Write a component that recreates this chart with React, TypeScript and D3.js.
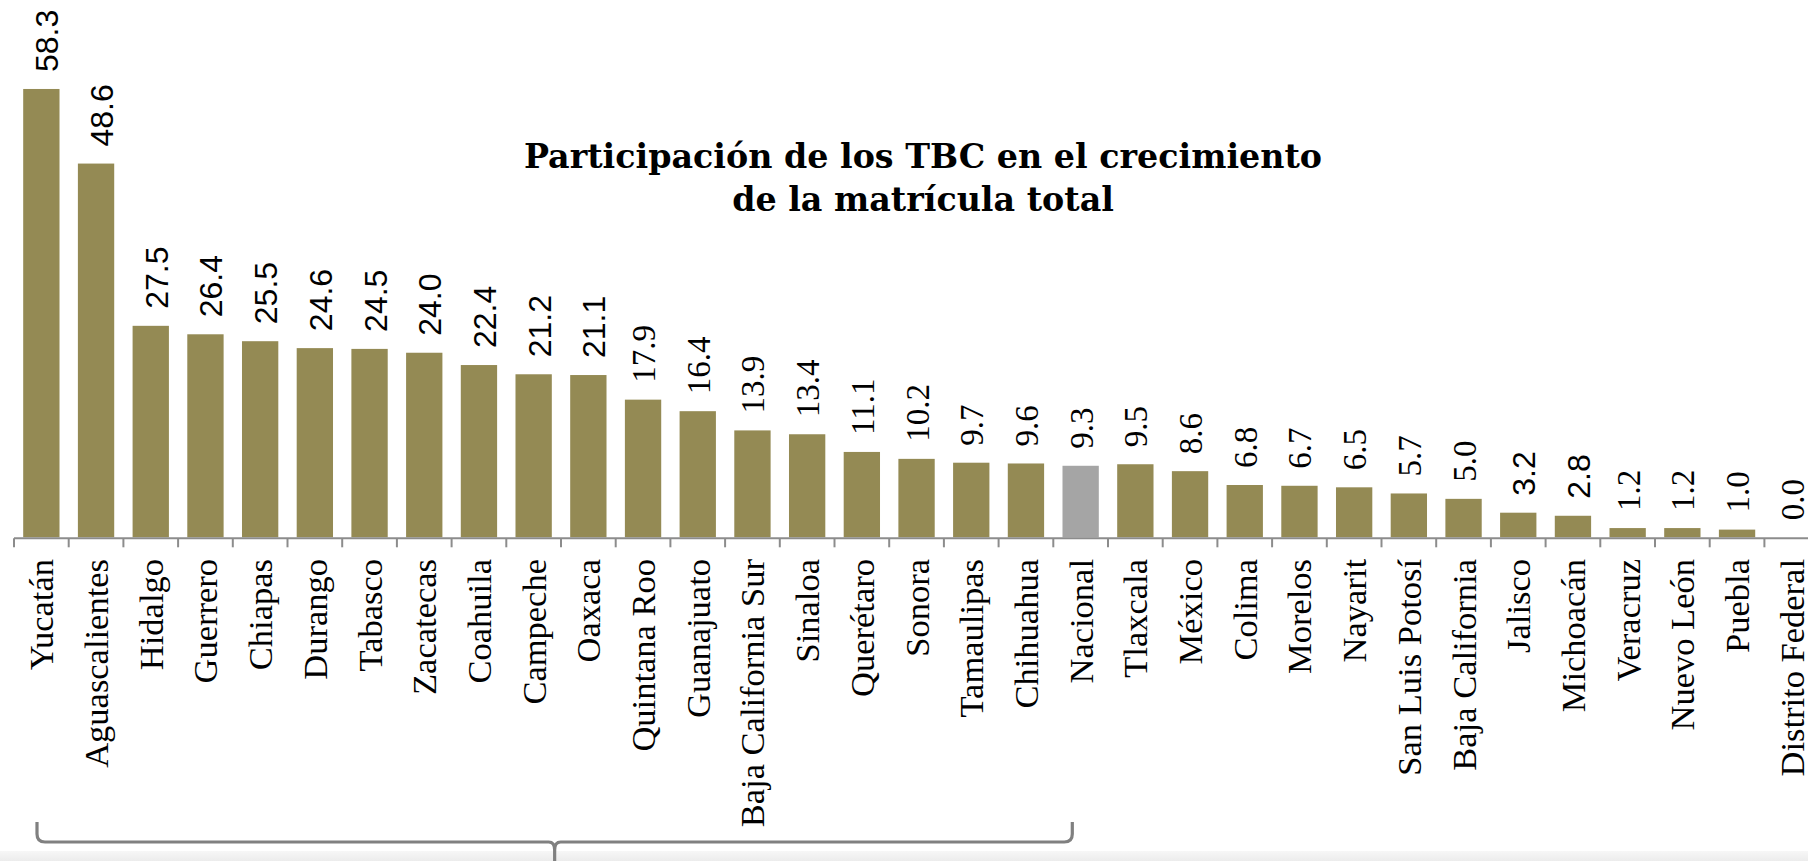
import React from "react";
import * as d3 from "d3";

const categories: string[] = [
  "Yucatán", "Aguascalientes", "Hidalgo", "Guerrero", "Chiapas", "Durango", "Tabasco",
  "Zacatecas", "Coahuila", "Campeche", "Oaxaca", "Quintana Roo", "Guanajuato",
  "Baja California Sur", "Sinaloa", "Querétaro", "Sonora", "Tamaulipas", "Chihuahua",
  "Nacional", "Tlaxcala", "México", "Colima", "Morelos", "Nayarit", "San Luis Potosí",
  "Baja California", "Jalisco", "Michoacán", "Veracruz", "Nuevo León", "Puebla", "Distrito Federal",
];

const values: number[] = [
  58.3, 48.6, 27.5, 26.4, 25.5, 24.6, 24.5, 24.0, 22.4, 21.2, 21.1, 17.9, 16.4,
  13.9, 13.4, 11.1, 10.2, 9.7, 9.6, 9.3, 9.5, 8.6, 6.8, 6.7, 6.5, 5.7, 5.0, 3.2, 2.8,
  1.2, 1.2, 1.0, 0.0,
];

const highlighted: string[] = ["Nacional"];
const bracketFrom = "Yucatán";
const bracketTo = "Chihuahua";
const titleLines: string[] = ["Participación de los TBC en el crecimiento", "de la matrícula total"];

// labels rendered in a sans face in the reference
const sansLabels = new Set<string>([
  "Yucatán", "Aguascalientes", "Hidalgo", "Guerrero", "Chiapas", "Durango", "Tabasco",
  "Zacatecas", "Coahuila", "Campeche", "Oaxaca", "Jalisco", "Michoacán",
]);

const W = 1808;
const H = 861;
const X0 = 14;
const STEP = 54.7;
const BASE = 537.3;
const PX_PER_UNIT = 7.69;

export default function App() {
  const data = categories.map((c, i) => ({ c, v: values[i] }));

  const xTick = d3.scaleBand<string>().domain(categories).range([X0, X0 + STEP * categories.length]).padding(0);
  const x = d3
    .scaleBand<string>()
    .domain(categories)
    .range([X0, X0 + STEP * categories.length])
    .paddingInner(0.336)
    .paddingOuter(0.168);
  const y = d3.scaleLinear().domain([0, 60]).range([BASE, BASE - 60 * PX_PER_UNIT]);

  const cx = (c: string) => (xTick(c) ?? 0) + xTick.bandwidth() / 2;

  const bLeft = (xTick(bracketFrom) ?? 0) + 23;
  const bRight = (xTick(bracketTo) ?? 0) + xTick.step() + 19;
  const bMid = (bLeft + bRight) / 2;
  const bTop = 822;
  const bY = 842;
  const r = 8;
  const bracketPath =
    `M${bLeft},${bTop} L${bLeft},${bY - r} Q${bLeft},${bY} ${bLeft + r},${bY} ` +
    `L${bMid - 6},${bY} Q${bMid},${bY} ${bMid},${bY + 8} L${bMid},${H + 2} ` +
    `M${bMid},${bY + 8} Q${bMid},${bY} ${bMid + 6},${bY} ` +
    `L${bRight - r},${bY} Q${bRight},${bY} ${bRight},${bY - r} L${bRight},${bTop}`;

  const tickXs = categories.map((c) => xTick(c) ?? 0);

  return (
    <svg
      width={W}
      height={H}
      viewBox={`0 0 ${W} ${H}`}
      style={{ position: "absolute", left: 0, top: 0, display: "block", background: "#ffffff" }}
    >
      <defs>
        <linearGradient id="bottomBand" x1="0" y1="0" x2="0" y2="1">
          <stop offset="0" stopColor="#f7f7f7" />
          <stop offset="1" stopColor="#ececec" />
        </linearGradient>
      </defs>
      <rect x={0} y={0} width={W} height={H} fill="#ffffff" />
      <rect x={0} y={851} width={W} height={H - 851} fill="url(#bottomBand)" />

      {/* title */}
      <text
        x={923}
        textAnchor="middle"
        fontFamily="'DejaVu Serif', serif"
        fontWeight="bold"
        fontSize={33.3}
        fill="#000"
      >
        {titleLines.map((t, i) => (
          <tspan key={i} x={923} y={168 + i * 43}>
            {t}
          </tspan>
        ))}
      </text>

      {/* bars */}
      {data.map((d) => (
        <rect
          key={d.c}
          x={x(d.c)}
          y={y(d.v)}
          width={x.bandwidth()}
          height={Math.max(0, y(0) - y(d.v))}
          fill={highlighted.includes(d.c) ? "#a5a5a5" : "#948a54"}
        />
      ))}

      {/* axis */}
      <line x1={X0} x2={W} y1={BASE + 1} y2={BASE + 1} stroke="#8c8c8c" strokeWidth={2} />
      {tickXs.map((tx, i) => (
        <line key={i} x1={tx} x2={tx} y1={BASE + 1} y2={BASE + 10} stroke="#8c8c8c" strokeWidth={2} />
      ))}

      {/* value labels */}
      {data.map((d) => {
        const sans = sansLabels.has(d.c);
        const off = sans ? 17 : 12;
        return (
          <text
            key={"v" + d.c}
            transform={`translate(${cx(d.c) + off},${y(d.v) - 17}) rotate(-90)`}
            textAnchor="start"
            fontFamily={sans ? "'Liberation Sans', Arial, sans-serif" : "'Liberation Serif', serif"}
            fontSize={sans ? 32 : 33}
            fill="#000"
          >
            {d3.format(".1f")(d.v)}
          </text>
        );
      })}

      {/* category labels */}
      {categories.map((c) => (
        <text
          key={"c" + c}
          transform={`translate(${cx(c) + 12},559) rotate(-90)`}
          textAnchor="end"
          fontFamily="'Liberation Serif', serif"
          fontSize={34.5}
          fill="#000"
        >
          {c}
        </text>
      ))}

      {/* bracket */}
      <path d={bracketPath} fill="none" stroke="#808080" strokeWidth={3.2} strokeLinejoin="round" />
    </svg>
  );
}
